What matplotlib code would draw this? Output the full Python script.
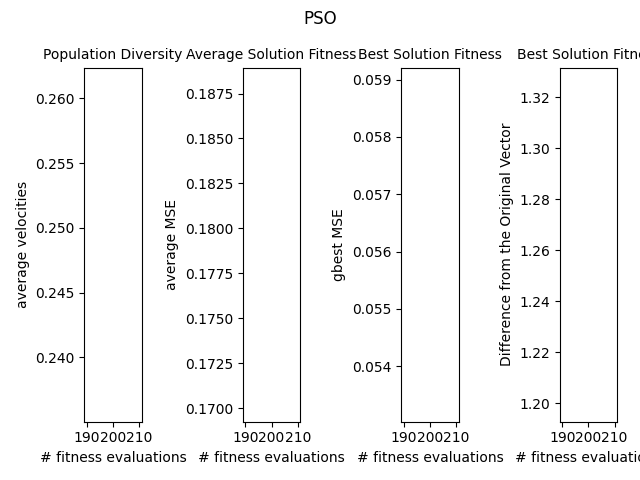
import matplotlib
matplotlib.use("Agg")
import matplotlib.pyplot as plt

# single logged generation, so each panel holds one (invisible) point
evaluations = [200]
avg_velocities = [0.2487]
avg_mse = [0.17909]
gbest_mse = [0.05612]
vector_diff = [1.2621]

titles = ["Population Diversity", "Average Solution Fitness",
          "Best Solution Fitness", "Best Solution Fitness"]
ylabels = ["average velocities", "average MSE", "gbest MSE",
           "Difference from the Original Vector"]
series = [avg_velocities, avg_mse, gbest_mse, vector_diff]

fig, axes = plt.subplots(1, 4, figsize=(6.4, 4.8), dpi=100)
fig.suptitle("PSO")

for ax, title, ylabel, values in zip(axes, titles, ylabels, series):
    ax.plot(evaluations, values)
    ax.set_title(title, fontsize=10)
    ax.set_xlabel("# fitness evaluations")
    ax.set_ylabel(ylabel)

fig.subplots_adjust(left=0.1318, right=0.9645, bottom=0.1215, top=0.859,
                    wspace=1.75)
fig.savefig("out.png")
